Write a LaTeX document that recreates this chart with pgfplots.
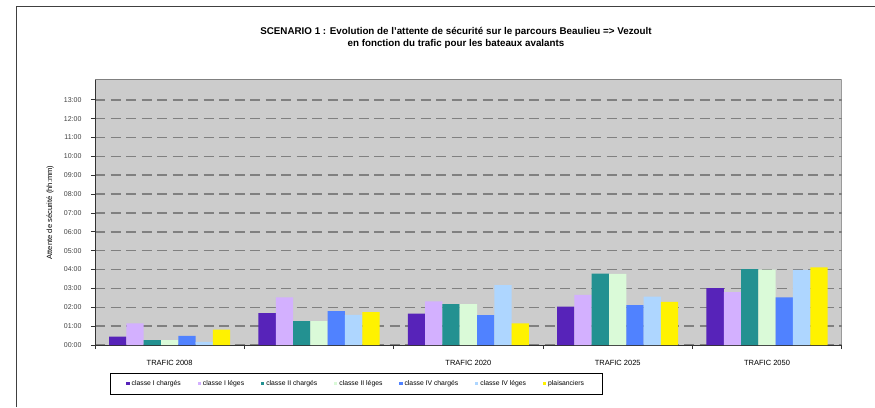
\documentclass[border=0pt]{standalone}
\usepackage{fontspec}
\setmainfont{Liberation Sans}
\usepackage{pgfplots}
\pgfplotsset{compat=1.18}
\usepackage{pgfplotstable}

\definecolor{cIc}{RGB}{87,35,185}
\definecolor{cIl}{RGB}{211,176,255}
\definecolor{cIIc}{RGB}{35,145,145}
\definecolor{cIIl}{RGB}{218,250,216}
\definecolor{cIVc}{RGB}{80,130,255}
\definecolor{cIVl}{RGB}{174,214,255}
\definecolor{cpl}{RGB}{255,242,0}
\definecolor{bg}{RGB}{204,204,204}
\definecolor{gridgray}{RGB}{128,128,128}

% attente en heures decimales
\pgfplotstableread{
g  Ic   Il   IIc  IIl  IVc  IVl  pl
0  0.44 1.15 0.26 0.26 0.49 0.17 0.81
1  1.69 2.52 1.27 1.27 1.80 1.60 1.74
2  1.67 2.31 2.17 2.17 1.59 3.17 1.15
3  2.04 2.66 3.79 3.77 2.11 2.56 2.29
4  3.01 2.80 4.02 4.00 2.52 3.98 4.11
}\data

\begin{document}
\begin{tikzpicture}
\useasboundingbox (0pt,0pt) rectangle (875pt,407pt);
\draw[black!75, line width=0.9pt] (16pt,0pt) -- (16pt,400.5pt) -- (875pt,400.5pt);
\node[font=\bfseries\fontsize{9.8}{12}\selectfont, align=center] at (456pt,369pt)
  {SCENARIO 1 : Evolution de l'attente de sécurité sur le parcours Beaulieu => Vezoult\\
   en fonction du trafic pour les bateaux avalants};
\begin{axis}[
  at={(95pt,62pt)}, anchor=south west,
  scale only axis, width=746.7pt, height=265pt,
  ybar=0pt, bar width=17.3pt,
  xmin=-0.5, xmax=4.5, ymin=0, ymax=14.05,
  axis x line*=bottom, axis y line*=left,
  axis line style={black!80, line width=0.8pt},
  axis background/.style={fill=bg},
  xtick={0,...,4},
  xticklabels={TRAFIC 2008,,TRAFIC 2020,TRAFIC 2025,TRAFIC 2050},
  major x tick style={draw=none},
  minor xtick={-0.5,0.5,...,4.5},
  minor x tick style={black!80, line width=0.8pt},
  minor tick length=4pt,
  ytick={0,...,13},
  yticklabels={00:00,01:00,02:00,03:00,04:00,05:00,06:00,07:00,08:00,09:00,10:00,11:00,12:00,13:00},
  major tick length=4pt, tick align=outside,
  y tick style={black!80, line width=0.8pt},
  ymajorgrids,
  grid style={gridgray, line width=1.5pt, dash pattern=on 10pt off 5.5pt},
  xticklabel style={font=\fontsize{7.5}{9}\selectfont, yshift=-8pt},
  yticklabel style={font=\fontsize{7}{8}\selectfont, text=black!75, xshift=-6pt},
  ylabel={Attente de sécurité (hh:mm)},
  ylabel style={at={(axis description cs:-0.06,0.5)}, anchor=center,
    font=\fontsize{7.6}{9}\selectfont},
  legend columns=7,
  legend style={at={(0.02,-0.1057)}, anchor=north west, draw=black,
    line width=0.8pt, font=\fontsize{6.8}{8}\selectfont,
    inner xsep=16pt, inner ysep=5pt,
    /tikz/every even column/.append style={column sep=14.7pt}},
  legend image code/.code={\fill[#1] (0pt,-1.7pt) rectangle (3.4pt,1.7pt);},
  legend cell align=left,
]
\addplot[draw=none, fill=cIc] table[x=g, y=Ic] {\data};
\addplot[draw=none, fill=cIl] table[x=g, y=Il] {\data};
\addplot[draw=none, fill=cIIc] table[x=g, y=IIc] {\data};
\addplot[draw=none, fill=cIIl] table[x=g, y=IIl] {\data};
\addplot[draw=none, fill=cIVc] table[x=g, y=IVc] {\data};
\addplot[draw=none, fill=cIVl] table[x=g, y=IVl] {\data};
\addplot[draw=none, fill=cpl] table[x=g, y=pl] {\data};
\draw[gridgray, line width=1pt] (rel axis cs:0,1) -- (rel axis cs:1,1) -- (rel axis cs:1,0);
\legend{classe I chargés, classe I léges, classe II chargés, classe II léges, classe IV chargés, classe IV léges, plaisanciers}
\end{axis}
\end{tikzpicture}
\end{document}
